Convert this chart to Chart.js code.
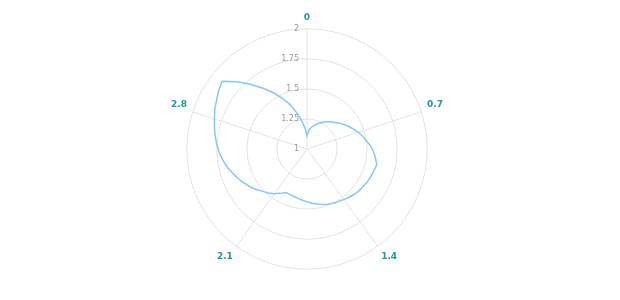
<!DOCTYPE html>
<html>
<head>
<meta charset="utf-8">
<script src="https://cdn.jsdelivr.net/npm/chart.js@4/dist/chart.umd.min.js"></script>
<style>
  html, body { margin: 0; padding: 0; background: #fff; }
  #wrap { width: 620px; height: 300px; }
</style>
</head>
<body>
<div id="wrap"><canvas id="polarChart" width="620" height="300"></canvas></div>
<script>
// angle axis: one category every 0.05, full turn = 3.5
const angles = [
  '0', '0.05', '0.1', '0.15', '0.2', '0.25', '0.3', '0.35', '0.4', '0.45',
  '0.5', '0.55', '0.6', '0.65', '0.7', '0.75', '0.8', '0.85', '0.9', '0.95',
  '1', '1.05', '1.1', '1.15', '1.2', '1.25', '1.3', '1.35', '1.4', '1.45',
  '1.5', '1.55', '1.6', '1.65', '1.7', '1.75', '1.8', '1.85', '1.9', '1.95',
  '2', '2.05', '2.1', '2.15', '2.2', '2.25', '2.3', '2.35', '2.4', '2.45',
  '2.5', '2.55', '2.6', '2.65', '2.7', '2.75', '2.8', '2.85', '2.9', '2.95',
  '3', '3.05', '3.1', '3.15', '3.2', '3.25', '3.3', '3.35', '3.4', '3.45'];
const shownAngles = ['0', '0.7', '1.4', '2.1', '2.8'];

// radius at each angle
const radius = [
  1.11, 1.15, 1.18, 1.20, 1.22, 1.24, 1.26, 1.28, 1.30, 1.32,
  1.345, 1.37, 1.395, 1.42, 1.45, 1.475, 1.50, 1.53, 1.555, 1.575,
  1.595, 1.585, 1.578, 1.572, 1.563, 1.555, 1.545, 1.533, 1.52, 1.51,
  1.50, 1.49, 1.478, 1.465, 1.453, 1.44, 1.428, 1.418, 1.41, 1.405,
  1.402, 1.43, 1.46, 1.485, 1.51, 1.54, 1.57, 1.595, 1.625, 1.65,
  1.68, 1.705, 1.73, 1.75, 1.77, 1.79, 1.81, 1.835, 1.855, 1.88,
  1.905, 1.81, 1.715, 1.625, 1.545, 1.465, 1.39, 1.31, 1.235, 1.17];

const radiusTicks = [1, 1.25, 1.5, 1.75, 2];

const gridColor = '#e2e2e2';

// tick labels sit left of the vertical axis, right aligned
const tickLabels = {
  id: 'tickLabels',
  afterDraw(chart) {
    const s = chart.scales.r;
    const c = chart.ctx;
    c.save();
    c.font = '8px "DejaVu Sans"';
    c.fillStyle = '#9a9a9a';
    c.textAlign = 'right';
    c.textBaseline = 'middle';
    radiusTicks.forEach(v => {
      const d = s.getDistanceFromCenterForValue(v);
      c.fillText(String(v), s.xCenter - 8, s.yCenter - d);
    });
    c.restore();
  }
};

new Chart(document.getElementById('polarChart'), {
  type: 'radar',
  data: {
    labels: angles,
    datasets: [{
      data: radius,
      borderColor: '#88c6f6',
      borderWidth: 1.5,
      fill: false,
      pointRadius: 0,
      pointHoverRadius: 0,
      tension: 0
    }]
  },
  options: {
    responsive: false,
    animation: false,
    layout: { padding: { top: 13, bottom: 13, left: 0, right: 6 } },
    plugins: { legend: { display: false }, tooltip: { enabled: false } },
    scales: {
      r: {
        min: 1,
        max: 2,
        ticks: { stepSize: 0.25, display: false },
        grid: { circular: true, color: gridColor, lineWidth: 1 },
        angleLines: {
          color: gridColor,
          lineWidth: ctx => (shownAngles.includes(angles[ctx.index]) ? 1 : 0)
        },
        pointLabels: {
          padding: 6,
          color: '#1a9e8c',
          font: { family: 'DejaVu Sans', size: 9, weight: 'bold' },
          callback: label => (shownAngles.includes(label) ? label : '')
        }
      }
    }
  },
  plugins: [tickLabels]
});
</script>
</body>
</html>
